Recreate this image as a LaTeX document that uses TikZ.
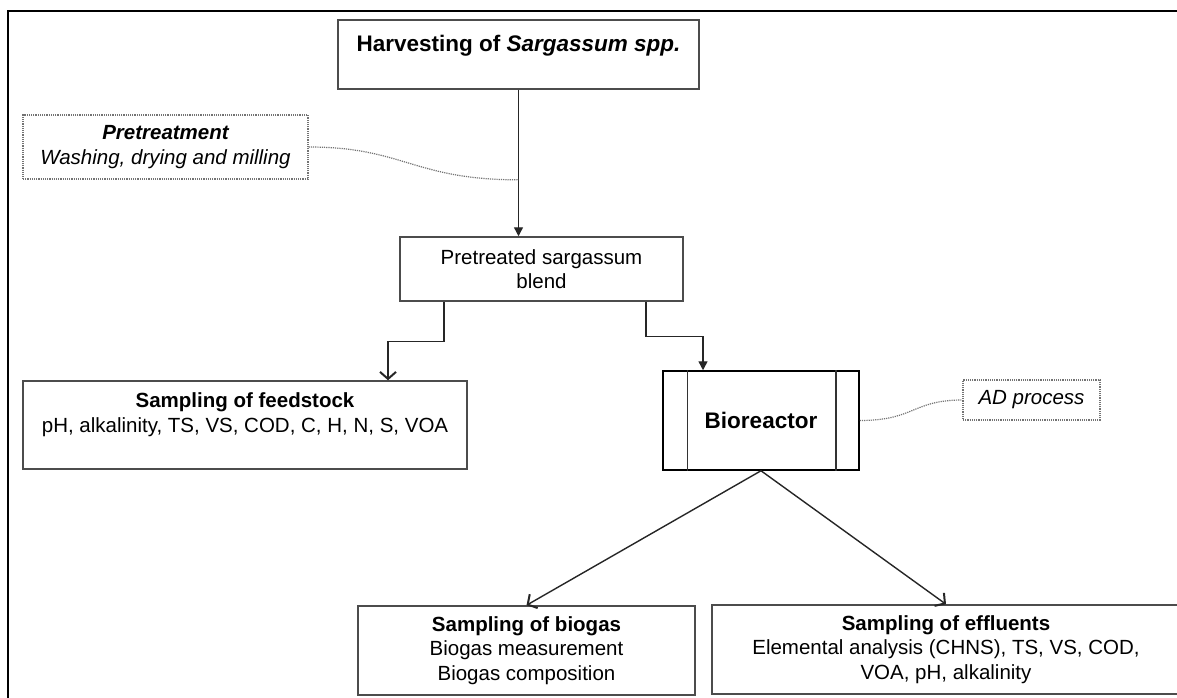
\documentclass[tikz,border=0pt]{standalone}
\usepackage{fontspec}
\setmainfont{Liberation Sans}
\usepackage{tikz}
\usetikzlibrary{arrows.meta}
\usetikzlibrary{calc}
\tikzstyle{procbox} = [draw=black!70, line width=1.5pt, fill=white, rectangle,
align=center, inner sep=0pt, font=\fontsize{20.5}{24.5}\selectfont]
\tikzstyle{notebox} = [draw=black!55, densely dotted, line width=1.2pt, rectangle,
align=center, inner sep=0pt, font=\fontsize{20.5}{24.5}\selectfont\itshape]
\tikzstyle{bigtitle} = [font=\fontsize{22.5}{23}\selectfont\bfseries]
\tikzstyle{flow} = [draw=black!85, line width=1.4pt]
\tikzstyle{noteline} = [draw=black!55, densely dotted, line width=1.2pt]

\begin{document}
\begin{tikzpicture}[x=1pt, y=-1pt]
    \useasboundingbox (0,0) rectangle (1177,698);
    \draw[black, line width=1.3pt] (8,720) -- (8,11) -- (1200,11);

    \node[procbox, bigtitle, minimum width=361pt, minimum height=69pt] (harvest) at (518.5,54.5)
        {Harvesting of \textit{Sargassum spp.}\\ ~};
    \node[notebox, minimum width=285pt, minimum height=64pt] (pretreat) at (165.5,147)
        {\textbf{Pretreatment}\\ Washing, drying and milling};
    \node[procbox, minimum width=283pt, minimum height=64pt] (blend) at (541.5,269)
        {Pretreated sargassum\\ blend};
    \node[procbox, minimum width=444pt, minimum height=88pt] (feed) at (245,425)
        {\textbf{Sampling of feedstock}\\ pH, alkalinity, TS, VS, COD, C, H, N, S, VOA\\ ~};
    \node[procbox, bigtitle, draw=black, minimum width=196pt, minimum height=99pt] (bio) at (761,420.5)
        {Bioreactor};
    \node[notebox, minimum width=137pt, minimum height=40pt] (adproc) at (1031.5,400)
        {AD process};
    \node[procbox, minimum width=337pt, minimum height=89pt] (biogas) at (526.5,650.5)
        {\textbf{Sampling of biogas}\\ Biogas measurement\\ Biogas composition};
    \node[procbox, minimum width=468pt, minimum height=89pt] (effluent) at (946,649.5)
        {\textbf{Sampling of effluents}\\ Elemental analysis (CHNS), TS, VS, COD,\\ VOA, pH, alkalinity};

    \draw[black!80, line width=1.5pt] ([xshift=25pt]bio.north west) -- ([xshift=25pt]bio.south west)
        ([xshift=-24pt]bio.north east) -- ([xshift=-24pt]bio.south east);

    \draw[flow, -{Triangle[length=9pt,width=9pt]}] (harvest.south) -- (harvest.south |- blend.north);
    \coordinate (tap) at ($(harvest.south)!0.615!(harvest.south |- blend.north)$);
    \draw[noteline] (pretreat.east) .. controls +(95,0) and +(-105,0) .. (tap);

    \draw[flow, -{Straight Barb[length=7pt,width=16pt,line width=2pt]}] ([xshift=-97.5pt]blend.south)
        -- ++(0,40) -| ([xshift=143pt]feed.north);
    \draw[flow, -{Triangle[length=9pt,width=9pt]}] ([xshift=104.5pt]blend.south) -- ++(0,35)
        -| ([xshift=-58pt]bio.north);

    \draw[noteline] (bio.east) .. controls +(55,0) and +(-50,0) .. (adproc.west);

    \draw[flow, -{Straight Barb[length=7pt,width=16pt,line width=2pt]}] (bio.south) -- (biogas.north);
    \draw[flow, -{Straight Barb[length=7pt,width=16pt,line width=2pt]}] (bio.south) -- (effluent.north);
\end{tikzpicture}
\end{document}
